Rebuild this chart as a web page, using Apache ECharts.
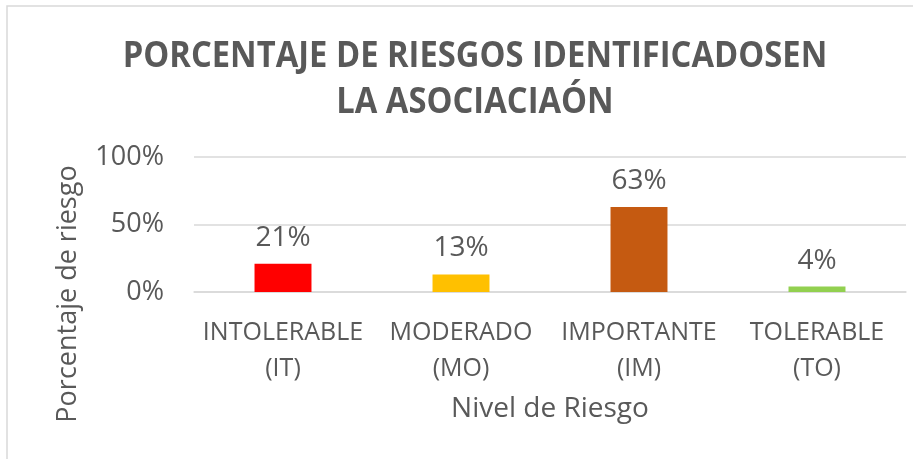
<!DOCTYPE html>
<html>
<head>
<meta charset="utf-8">
<script src="https://cdn.jsdelivr.net/npm/echarts@6/dist/echarts.min.js"></script>
<style>
  html, body { margin: 0; padding: 0; background: #fff; }
  #chart { width: 913px; height: 459px; }
</style>
</head>
<body>
<div id="chart"></div>
<script>
// Risk level categories and their share of identified risks
const categories = ['INTOLERABLE\n(IT)', 'MODERADO\n(MO)', 'IMPORTANTE\n(IM)', 'TOLERABLE\n(TO)'];
const values = [0.21, 0.13, 0.63, 0.04];
const barColors = ['#FF0000', '#FFC000', '#C55A11', '#92D050'];
const yTicks = [0, 0.5, 1];

const FONT = '"Open Sans", "Noto Sans", sans-serif';
const TEXT = '#595959';

const chart = echarts.init(document.getElementById('chart'), null, { renderer: 'canvas' });

chart.setOption({
  backgroundColor: '#ffffff',
  animation: false,
  textStyle: { fontFamily: FONT, color: TEXT },
  grid: { left: 194, right: 7, top: 157, bottom: 167 },
  graphic: [
    {
      // chart area outline
      type: 'rect',
      shape: { x: 7, y: 6, width: 1000, height: 1000 },
      style: { fill: 'none', stroke: '#D9D9D9', lineWidth: 1.5 },
      silent: true
    },
    {
      // two-line chart title, slightly condensed
      type: 'text',
      x: 475, y: 80,
      scaleX: 0.935,
      style: {
        text: 'PORCENTAJE DE RIESGOS IDENTIFICADOSEN\nLA ASOCIACIAÓN',
        font: 'bold 35px ' + FONT,
        fill: TEXT,
        textAlign: 'center',
        textVerticalAlign: 'middle',
        lineHeight: 46
      }
    },
    {
      // vertical value-axis title
      type: 'text',
      x: 68, y: 294,
      rotation: Math.PI / 2,
      style: {
        text: 'Porcentaje de riesgo',
        font: '27px ' + FONT,
        fill: TEXT,
        textAlign: 'center',
        textVerticalAlign: 'middle'
      }
    }
  ],
  xAxis: {
    type: 'category',
    data: categories,
    name: 'Nivel de Riesgo',
    nameLocation: 'middle',
    nameGap: 103,
    nameTextStyle: { fontSize: 28, color: TEXT, fontFamily: FONT },
    axisLine: { lineStyle: { color: '#D9D9D9', width: 1.5 } },
    axisTick: { show: false },
    axisLabel: {
      fontSize: 25,
      color: TEXT,
      fontFamily: FONT,
      lineHeight: 36,
      margin: 23,
      interval: 0
    }
  },
  yAxis: {
    type: 'value',
    min: yTicks[0],
    max: yTicks[yTicks.length - 1],
    interval: yTicks[1] - yTicks[0],
    axisLine: { show: false },
    axisTick: { show: false },
    splitLine: { lineStyle: { color: '#D9D9D9', width: 1.5 } },
    axisLabel: {
      fontSize: 27,
      color: TEXT,
      fontFamily: FONT,
      margin: 30,
      formatter: v => Math.round(v * 100) + '%'
    }
  },
  series: [{
    type: 'bar',
    barWidth: '32%',
    data: values.map((v, i) => ({ value: v, itemStyle: { color: barColors[i] } })),
    label: {
      show: true,
      position: 'top',
      distance: 12,
      fontSize: 28,
      color: TEXT,
      fontFamily: FONT,
      formatter: p => Math.round(p.value * 100) + '%'
    }
  }]
});
</script>
</body>
</html>
